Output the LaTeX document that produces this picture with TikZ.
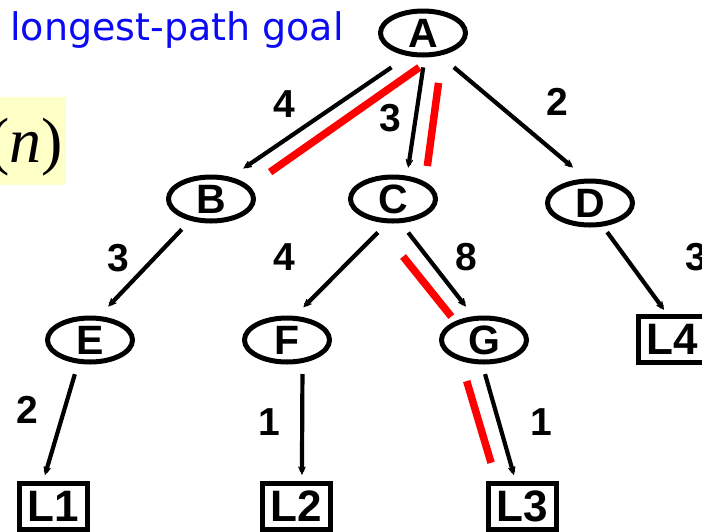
\documentclass[tikz,border=0pt]{standalone}
\usepackage{fontspec}
\setmainfont{Liberation Sans}
\newfontfamily\titlefont{DejaVu Sans}
\newfontfamily\timesfont{Liberation Serif}
\usetikzlibrary{arrows.meta,shapes.geometric}
\definecolor{pathred}{RGB}{255,0,0}
\definecolor{goalblue}{RGB}{10,10,245}
\definecolor{notepad}{RGB}{255,255,200}

\begin{document}
\begin{tikzpicture}[x=1pt,y=-1pt]
    \tikzstyle{every node}=[font=\fontsize{39}{39}\selectfont\bfseries]
    \tikzstyle{vert}=[draw, ellipse, line width=5pt, minimum width=85pt, minimum height=44pt, inner sep=0pt, font=\fontsize{41}{41}\selectfont\bfseries]
    \tikzstyle{leaf}=[draw, rectangle, line width=5pt, minimum width=68pt, minimum height=46pt, inner sep=0pt, font=\fontsize{44}{44}\selectfont\bfseries]
    \tikzstyle{link}=[line width=4.2pt, -{Stealth[length=15pt,width=14pt,inset=11pt]}]
    \tikzstyle{hilite}=[line width=7.5pt, color=pathred]
    \useasboundingbox (0,0) rectangle (702,531);
    % note and title
    \fill[notepad] (0,97) rectangle (66,185);
    \node[anchor=base east, inner sep=0pt, font=\timesfont\fontsize{64}{64}\selectfont] (cost) at (63,162) {(\textit{n})};
    \node[anchor=base west, inner sep=0pt, font=\titlefont\fontsize{38}{38}\selectfont, text=goalblue] (goal) at (10,40) {longest-path goal};
    % tree nodes
    \node[vert] (A) at (423,33) {A};
    \node[vert] (B) at (211,199) {B};
    \node[vert] (C) at (393,199) {C};
    \node[vert] (D) at (590,203) {D};
    \node[vert] (E) at (90,340) {E};
    \node[vert] (F) at (287,340) {F};
    \node[vert] (G) at (484,340) {G};
    \node[leaf] (L1) at (53.5,506.5) {L1};
    \node[leaf] (L2) at (296,506.5) {L2};
    \node[leaf] (L3) at (522,506.5) {L3};
    \node[leaf] (L4) at (672.5,339.5) {L4};
    % edges
    \draw[link, shorten <=20pt, shorten >=15pt] (A.237) -- (B.48);
    \draw[hilite, shorten <=18.6pt, shorten >=25pt] (A.296) -- (B.18);
    \draw[link, shorten <=10pt, shorten >=8pt] (A.274) -- (C.59);
    \draw[hilite, shorten <=28pt, shorten >=16pt] (A.311) -- (C.28);
    \draw[link, shorten <=18pt, shorten >=17pt] (A.307) -- (D.99);
    \draw[link, shorten <=12pt, shorten >=13pt] (B.226) -- (E.69);
    \draw[link, shorten <=13pt, shorten >=12pt] (C.256) -- (F.72);
    \draw[link, shorten <=12pt, shorten >=12pt] (C.288) -- (G.114);
    \draw[hilite, shorten <=45pt, shorten >=6pt] (C.231) -- (G.147);
    \draw[link, shorten <=7pt, shorten >=5pt] (D.299) -- (L4.102);
    \draw[link, shorten <=11pt, shorten >=6pt] (E.243) -- (L1.112);
    \draw[link, shorten <=11pt, shorten >=6pt] (F.304) -- (L2.77);
    \draw[link, shorten <=10pt, shorten >=6pt] (G.266) -- (L3.104);
    \draw[hilite, shorten <=21pt, shorten >=19pt] (G.222) -- (L3.135);
    % weights
    \node (wAB) at (284,104) {4};
    \node (wAC) at (390,118) {3};
    \node (wAD) at (557,102) {2};
    \node (wBE) at (118,258) {3};
    \node (wCF) at (284,257) {4};
    \node (wCG) at (466,257) {8};
    \node (wDL) at (696,257) {3};
    \node (wEL) at (27,410) {2};
    \node (wFL) at (269,422) {1};
    \node (wGL) at (541,422) {1};
\end{tikzpicture}
\end{document}
